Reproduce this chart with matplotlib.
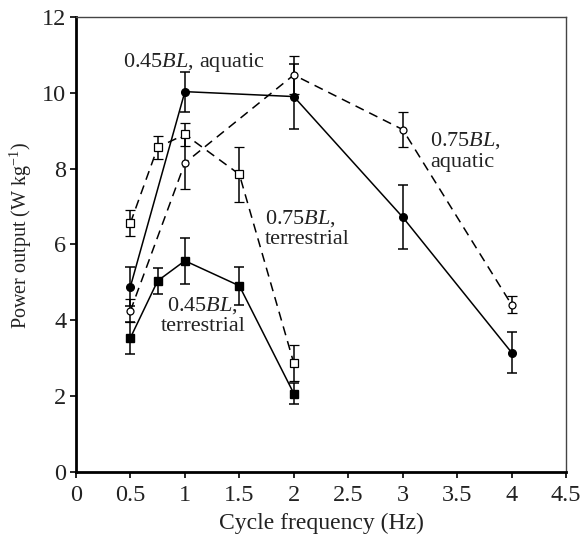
import matplotlib
matplotlib.use('Agg')
import matplotlib.pyplot as plt
import numpy as np

plt.rcParams['font.family'] = 'Liberation Serif'
plt.rcParams['mathtext.fontset'] = 'custom'
plt.rcParams['mathtext.rm'] = 'Liberation Serif'
plt.rcParams['mathtext.it'] = 'Liberation Serif:italic'

# 0.45BL aquatic (filled circles, solid)
x_aq = [0.5, 1, 2, 3, 4]
y_45aq = [4.89, 10.03, 9.90, 6.72, 3.15]
e_45aq = [0.52, 0.53, 0.86, 0.85, 0.55]
# 0.75BL aquatic (open circles, dashed)
y_75aq = [4.25, 8.15, 10.47, 9.03, 4.41]
e_75aq = [0.30, 0.68, 0.50, 0.45, 0.23]
# terrestrial
x_te = [0.5, 0.75, 1, 1.5, 2]
y_75te = [6.57, 8.56, 8.90, 7.85, 2.87]
e_75te = [0.34, 0.30, 0.30, 0.72, 0.47]
y_45te = [3.54, 5.04, 5.57, 4.91, 2.07]
e_45te = [0.42, 0.35, 0.60, 0.50, 0.28]

fig = plt.figure(figsize=(5.8, 5.39), dpi=100)
ax = fig.add_axes([0.131, 0.1243, 0.845, 0.8443])

eb = dict(color='black', ecolor='black', elinewidth=1.1, capsize=3.6, capthick=1.1, lw=1.1)
ax.errorbar(x_aq, y_45aq, yerr=e_45aq, fmt='-o', ms=5.5, mfc='black', mec='black', **eb)
ax.errorbar(x_aq, y_75aq, yerr=e_75aq, fmt='--o', ms=5, mfc='white', mec='black', mew=0.9, dashes=(6, 4), **eb)
ax.errorbar(x_te, y_75te, yerr=e_75te, fmt='--s', ms=5.5, mfc='white', mec='black', mew=0.9, dashes=(6, 4), **eb)
ax.errorbar(x_te, y_45te, yerr=e_45te, fmt='-s', ms=6, mfc='black', mec='black', **eb)

fs = 17.5
afs = 16
tc = '#222222'
ax.text(0.43, 10.8, r'$0.45\mathit{BL}$, aquatic', fontsize=afs, va='center', color=tc)
ax.text(3.25, 8.46, '$0.75\\mathit{BL}$,\naquatic', fontsize=afs, va='center', color=tc, linespacing=1.1)
ax.text(1.735, 6.42, '$0.75\\mathit{BL}$,\nterrestrial', fontsize=afs, va='center', color=tc, linespacing=1.1)
ax.text(1.165, 4.13, '$0.45\\mathit{BL}$,\nterrestrial', fontsize=afs, va='center', ha='center', color=tc, linespacing=1.1)

ax.set_xlim(0, 4.5)
ax.set_ylim(0, 12)
ax.set_xticks(np.arange(0, 4.51, 0.5))
ax.set_xticklabels(['0', '0.5', '1', '1.5', '2', '2.5', '3', '3.5', '4', '4.5'])
ax.set_yticks(range(0, 13, 2))
ax.tick_params(direction='out', length=4, width=1.2, labelsize=fs, labelcolor=tc, top=False, right=False)
ax.tick_params(axis='x', pad=5)
ax.tick_params(axis='y', pad=3)
ax.spines['left'].set_linewidth(2)
ax.spines['bottom'].set_linewidth(2)
ax.spines['top'].set_linewidth(1)
ax.spines['right'].set_linewidth(1)
ax.spines['top'].set_color('#444444')
ax.spines['right'].set_color('#444444')
ax.set_xlabel('Cycle frequency (Hz)', fontsize=17, color=tc, labelpad=5)
ax.set_ylabel(r'Power output (W kg$^{-1}$)', fontsize=14.5, color=tc)
ax.yaxis.set_label_coords(-0.085, 0.52)

fig.savefig('out.png', dpi=100)
